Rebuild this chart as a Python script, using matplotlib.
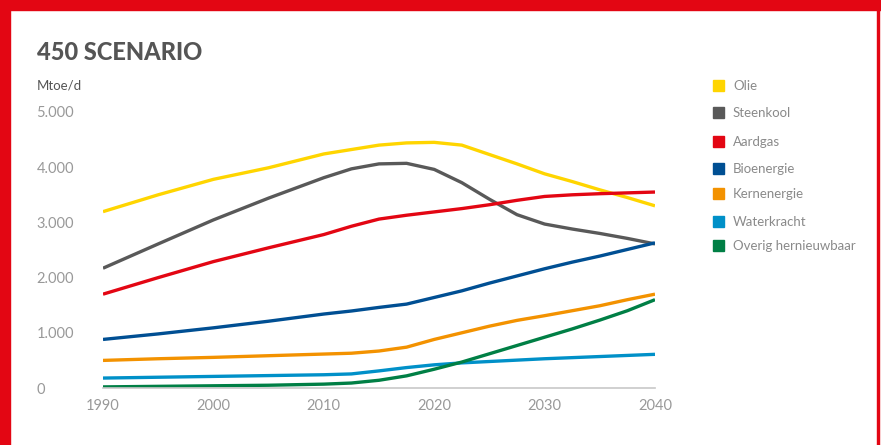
import matplotlib.pyplot as plt
from matplotlib.patches import Rectangle

plt.rcParams['font.family'] = ['Lato', 'DejaVu Sans']

years = [1990, 1995, 2000, 2005, 2010, 2012.5, 2015, 2017.5, 2020, 2022.5,
         2025, 2027.5, 2030, 2032.5, 2035, 2037.5, 2040]

olie = [3195, 3500, 3780, 3990, 4240, 4320, 4400, 4440, 4450, 4400,
        4230, 4060, 3880, 3740, 3590, 3450, 3300]
steenkool = [2170, 2610, 3045, 3440, 3810, 3970, 4060, 4070, 3960, 3720,
             3420, 3140, 2970, 2880, 2800, 2710, 2610]
aardgas = [1700, 2000, 2290, 2540, 2780, 2930, 3060, 3130, 3190, 3250,
           3320, 3400, 3470, 3500, 3520, 3535, 3550]
bioenergie = [880, 980, 1090, 1210, 1340, 1395, 1460, 1520, 1640, 1760,
              1900, 2030, 2160, 2280, 2390, 2510, 2630]
kernenergie = [500, 530, 555, 585, 615, 630, 670, 740, 880, 1000,
               1120, 1225, 1310, 1400, 1490, 1600, 1700]
waterkracht = [180, 195, 210, 225, 240, 255, 310, 370, 420, 455,
               480, 505, 530, 550, 570, 590, 610]
overig = [20, 30, 40, 50, 70, 90, 140, 220, 340, 470,
          620, 770, 920, 1070, 1230, 1400, 1600]

labels = ["Olie", "Steenkool", "Aardgas", "Bioenergie", "Kernenergie",
          "Waterkracht", "Overig hernieuwbaar"]
colors = ["#ffd500", "#595959", "#e30613", "#004f93", "#f39200", "#0090c8", "#007f45"]

fig = plt.figure(figsize=(8.81, 4.45), dpi=100)
ax = fig.add_axes([103 / 881, 57 / 445, 552 / 881, 276 / 445])

series = [olie, steenkool, aardgas, bioenergie, kernenergie, waterkracht, overig]
for y, c in zip(series, colors):
    ax.plot(years, y, color=c, lw=2.4, solid_capstyle='butt', solid_joinstyle='round')

ax.set_xlim(1990, 2040)
ax.set_ylim(0, 5000)
ax.set_xticks([1990, 2000, 2010, 2020, 2030, 2040])
ax.set_yticks([0, 1000, 2000, 3000, 4000, 5000])
ax.set_yticklabels(["0", "1.000", "2.000", "3.000", "4.000", "5.000"])
for s in ["top", "right", "left"]:
    ax.spines[s].set_visible(False)
ax.spines["bottom"].set_color("#c8c8c8")
ax.spines["bottom"].set_linewidth(1.2)
ax.tick_params(length=0, colors="#999999", labelsize=10.5)
ax.tick_params(axis='x', pad=8)
ax.tick_params(axis='y', pad=48)
for t in ax.get_yticklabels():
    t.set_horizontalalignment('left')

fig.text(37 / 881, 1 - 52 / 445, "450 SCENARIO", fontsize=17, fontweight='black',
         color="#555555", va='center')
fig.text(37 / 881, 1 - 86 / 445, "Mtoe/d", fontsize=9.5, color="#555555", va='center')

# legend
legend_y = [86, 113, 142, 169, 194, 222, 246]
for lab, c, yy in zip(labels, colors, legend_y):
    fig.patches.append(Rectangle((713 / 881, 1 - (yy + 5) / 445), 11 / 881, 11 / 445,
                                 transform=fig.transFigure, color=c))
    fig.text(733 / 881, 1 - yy / 445, lab, fontsize=9.5,
             color="#8a8a8a", va='center')

# red frame
red = "#e30613"
fig.patches.append(Rectangle((0, 1 - 10 / 445), 1, 10 / 445, transform=fig.transFigure, color=red))
fig.patches.append(Rectangle((0, 0), 10 / 881, 1, transform=fig.transFigure, color=red))
fig.patches.append(Rectangle((877 / 881, 0), 2 / 881, 1, transform=fig.transFigure, color=red))

plt.savefig("out.png", dpi=100)
